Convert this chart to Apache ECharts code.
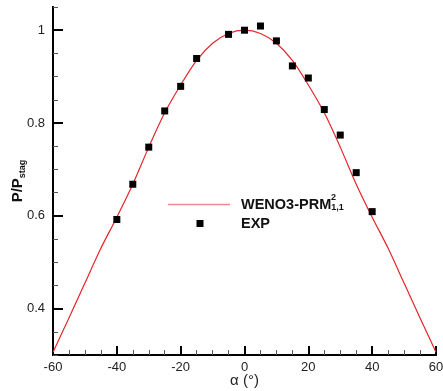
<!DOCTYPE html>
<html>
<head>
<meta charset="utf-8">
<script src="https://cdn.jsdelivr.net/npm/echarts@6/dist/echarts.min.js"></script>
<style>
    html, body { margin: 0; padding: 0; background: #fff; }
    #main { width: 443px; height: 391px; }
</style>
</head>
<body>
<div id="main"></div>
<script>
    // computed curve (WENO3-PRM), every 5 degrees
    var alpha = [-60, -55, -50, -45, -40, -35, -30, -25, -20, -15, -10, -5, 0,
                 5, 10, 15, 20, 25, 30, 35, 40, 45, 50, 55, 60];
    var weno = [0.306, 0.380, 0.455, 0.530, 0.597, 0.668, 0.748, 0.822, 0.882, 0.935, 0.972, 0.993, 1.000,
                0.993, 0.972, 0.935, 0.882, 0.822, 0.748, 0.668, 0.597, 0.530, 0.455, 0.380, 0.306];

    // experiment
    var expAlpha = [-40, -35, -30, -25, -20, -15, -5, 0, 5, 10, 15, 20, 25, 30, 35, 40];
    var expP = [0.592, 0.668, 0.748, 0.826, 0.879, 0.939, 0.991, 1.000, 1.009, 0.977, 0.923, 0.897, 0.829, 0.774, 0.693, 0.609];

    var xMajor = [-60, -40, -20, 0, 20, 40, 60];
    var yMajor = [0.4, 0.6, 0.8, 1];

    var font = 'Liberation Sans, Arial, sans-serif';

    var lineData = [];
    for (var i = 0; i < alpha.length; i++) {
        lineData.push([alpha[i], weno[i]]);
    }
    var expData = [];
    for (var j = 0; j < expAlpha.length; j++) {
        expData.push([expAlpha[j], expP[j]]);
    }

    var myChart = echarts.init(document.getElementById('main'));

    var option = {
        animation: false,
        backgroundColor: '#fff',
        grid: { left: 53, right: 7, top: 7, bottom: 36, containLabel: false, outerBoundsMode: 'none' },
        xAxis: [{
            type: 'value', position: 'bottom', min: -60, max: 60, interval: 5,
            axisLine: { onZero: false, lineStyle: { color: '#000', width: 2 } },
            axisTick: { inside: true, length: 5, lineStyle: { color: '#555', width: 1 } },
            axisLabel: { show: false },
            splitLine: { show: false }
        }, {
            type: 'value', position: 'bottom', min: -60, max: 60, interval: 20,
            axisLine: { show: true, onZero: false, lineStyle: { color: '#000', width: 2 } },
            axisTick: { show: true, inside: true, length: 9, lineStyle: { color: '#000', width: 2 } },
            axisLabel: { margin: 6, fontSize: 13, color: '#222', fontFamily: font },
            splitLine: { show: false },
            name: 'α (°)', nameLocation: 'middle', nameGap: 18, nameMoveOverlap: false,
            nameTextStyle: { fontSize: 15, color: '#222', fontFamily: font }
        }],
        yAxis: [{
            type: 'value', position: 'left', min: 0.3, max: 1.05, interval: 0.05,
            axisLine: { onZero: false, lineStyle: { color: '#000', width: 2 } },
            axisTick: { inside: true, length: 5, lineStyle: { color: '#555', width: 1 } },
            axisLabel: { show: false },
            splitLine: { show: false }
        }, {
            type: 'value', position: 'left', min: 0.3, max: 1.05,
            axisLine: { show: true, onZero: false, lineStyle: { color: '#000', width: 2 } },
            axisTick: { show: true, inside: true, length: 10, customValues: yMajor, lineStyle: { color: '#000', width: 2 } },
            axisLabel: { margin: 8, fontSize: 13, color: '#222', fontFamily: font, customValues: yMajor },
            splitLine: { show: false },
            name: '{a|P/P}{b|stag}', nameLocation: 'middle', nameGap: 26, nameMoveOverlap: false,
            nameTextStyle: {
                rich: {
                    a: { fontSize: 15, fontWeight: 'bold', color: '#111', fontFamily: font, lineHeight: 18 },
                    b: { fontSize: 9, fontWeight: 'bold', color: '#111', fontFamily: font, verticalAlign: 'bottom', lineHeight: 10 }
                }
            }
        }],
        legend: [{
            data: [{ name: 'WENO3-PRM', icon: 'path://M0 0H62V1.3H0Z', itemStyle: { color: '#ee8a8c' } }],
            left: 168, top: 197, padding: 0,
            itemWidth: 62, itemHeight: 2,
            formatter: '{a|WENO3-PRM}{b|1,1}',
            textStyle: {
                rich: {
                    a: { fontSize: 14.5, fontWeight: 'bold', color: '#111', fontFamily: font, lineHeight: 16, padding: [0, 0, 0, 6] },
                    b: { fontSize: 9, fontWeight: 'bold', color: '#111', fontFamily: font, verticalAlign: 'bottom', lineHeight: 10 }
                }
            }
        }, {
            data: [{ name: 'EXP', icon: 'rect' }],
            left: 196.5, top: 216, padding: 0,
            itemWidth: 7, itemHeight: 7,
            formatter: '{a|EXP}',
            textStyle: {
                rich: {
                    a: { fontSize: 14.5, fontWeight: 'bold', color: '#111', fontFamily: font, lineHeight: 16, padding: [0, 0, 0, 32.5] }
                }
            }
        }],
        graphic: [{
            type: 'text', left: 331, top: 193,
            style: { text: '2', fontSize: 9, fontWeight: 'bold', fill: '#111', fontFamily: font }
        }],
        series: [{
            name: 'WENO3-PRM',
            type: 'line',
            data: lineData,
            smooth: 0.3,
            symbol: 'none',
            itemStyle: { color: '#e3262b' },
            lineStyle: { color: '#e3262b', width: 1.2 },
            z: 2
        }, {
            name: 'EXP',
            type: 'scatter',
            data: expData,
            symbol: 'path://M0 0H10V10H0Z',
            symbolSize: 7,
            itemStyle: { color: '#000', opacity: 1 },
            z: 3
        }]
    };
    myChart.setOption(option);
</script>
</body>
</html>
